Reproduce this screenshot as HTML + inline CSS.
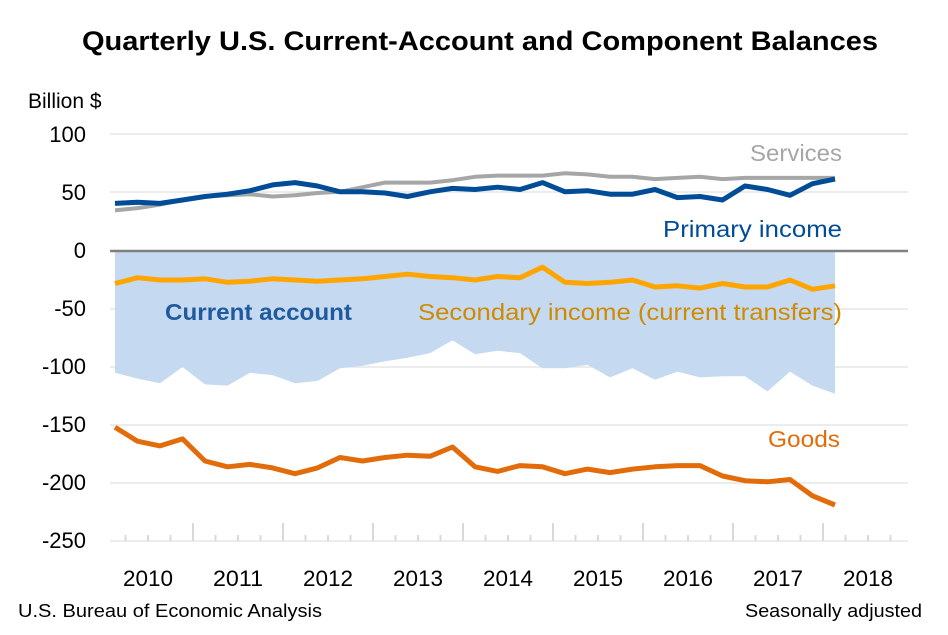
<!DOCTYPE html><html><head><style>body{margin:0;background:#fff}svg{display:block;font-family:"Liberation Sans",sans-serif}</style></head><body>
<svg width="948" height="635" viewBox="0 0 948 635" xmlns="http://www.w3.org/2000/svg" id="s">
<rect width="948" height="635" fill="#fff"/>
<text x="480" y="50" text-anchor="middle" font-size="27" font-weight="bold" fill="#000" textLength="796" lengthAdjust="spacingAndGlyphs">Quarterly U.S. Current-Account and Component Balances</text>
<text x="28" y="108" font-size="21" fill="#000">Billion $</text>
<g stroke="#e6e6e6" stroke-width="1.5">
<line x1="110" x2="908" y1="134" y2="134"/><line x1="110" x2="908" y1="192" y2="192"/>
<line x1="110" x2="908" y1="309" y2="309"/><line x1="110" x2="908" y1="367" y2="367"/>
<line x1="110" x2="908" y1="425" y2="425"/><line x1="110" x2="908" y1="483" y2="483"/>
<line x1="110" x2="908" y1="541" y2="541"/>
</g>
<g font-size="22" text-anchor="end" fill="#000">
<text x="86" y="142">100</text><text x="86" y="200">50</text><text x="86" y="258">0</text>
<text x="86" y="316">-50</text><text x="86" y="374">-100</text><text x="86" y="432">-150</text>
<text x="86" y="490">-200</text><text x="86" y="548">-250</text>
</g>
<g stroke="#d9d9d9" stroke-width="2">
<line x1="125.5" x2="125.5" y1="535" y2="541"/><line x1="148" x2="148" y1="535" y2="541"/><line x1="170.5" x2="170.5" y1="535" y2="541"/><line x1="193" x2="193" y1="523" y2="541"/>
<line x1="215.5" x2="215.5" y1="535" y2="541"/><line x1="238" x2="238" y1="535" y2="541"/><line x1="260.5" x2="260.5" y1="535" y2="541"/><line x1="283" x2="283" y1="523" y2="541"/>
<line x1="305.5" x2="305.5" y1="535" y2="541"/><line x1="328" x2="328" y1="535" y2="541"/><line x1="350.5" x2="350.5" y1="535" y2="541"/><line x1="373" x2="373" y1="523" y2="541"/>
<line x1="395.5" x2="395.5" y1="535" y2="541"/><line x1="418" x2="418" y1="535" y2="541"/><line x1="440.5" x2="440.5" y1="535" y2="541"/><line x1="463" x2="463" y1="523" y2="541"/>
<line x1="485.5" x2="485.5" y1="535" y2="541"/><line x1="508" x2="508" y1="535" y2="541"/><line x1="530.5" x2="530.5" y1="535" y2="541"/><line x1="553" x2="553" y1="523" y2="541"/>
<line x1="575.5" x2="575.5" y1="535" y2="541"/><line x1="598" x2="598" y1="535" y2="541"/><line x1="620.5" x2="620.5" y1="535" y2="541"/><line x1="643" x2="643" y1="523" y2="541"/>
<line x1="665.5" x2="665.5" y1="535" y2="541"/><line x1="688" x2="688" y1="535" y2="541"/><line x1="710.5" x2="710.5" y1="535" y2="541"/><line x1="733" x2="733" y1="523" y2="541"/>
<line x1="755.5" x2="755.5" y1="535" y2="541"/><line x1="778" x2="778" y1="535" y2="541"/><line x1="800.5" x2="800.5" y1="535" y2="541"/><line x1="823" x2="823" y1="523" y2="541"/>
<line x1="845.5" x2="845.5" y1="535" y2="541"/><line x1="868" x2="868" y1="535" y2="541"/><line x1="890.5" x2="890.5" y1="535" y2="541"/>
</g>
<g font-size="22" text-anchor="middle" fill="#000">
<text x="148" y="586" textLength="50" lengthAdjust="spacingAndGlyphs">2010</text><text x="238" y="586" textLength="50" lengthAdjust="spacingAndGlyphs">2011</text><text x="328" y="586" textLength="50" lengthAdjust="spacingAndGlyphs">2012</text><text x="418" y="586" textLength="50" lengthAdjust="spacingAndGlyphs">2013</text><text x="508" y="586" textLength="50" lengthAdjust="spacingAndGlyphs">2014</text><text x="598" y="586" textLength="50" lengthAdjust="spacingAndGlyphs">2015</text><text x="688" y="586" textLength="50" lengthAdjust="spacingAndGlyphs">2016</text><text x="778" y="586" textLength="50" lengthAdjust="spacingAndGlyphs">2017</text><text x="868" y="586" textLength="50" lengthAdjust="spacingAndGlyphs">2018</text>
</g>
<path id="ca" fill="#c5d9f1"/>
<line x1="110" x2="908" y1="251" y2="251" stroke="#808080" stroke-width="2.5"/>
<polyline id="sv" fill="none" stroke="#a6a6a6" stroke-width="4" stroke-linejoin="round"/>
<polyline id="pi" fill="none" stroke="#004c97" stroke-width="5" stroke-linejoin="round"/>
<polyline id="si" fill="none" stroke="#ffa500" stroke-width="5" stroke-linejoin="round"/>
<polyline id="gd" fill="none" stroke="#e36c0a" stroke-width="5" stroke-linejoin="round"/>
<text x="750" y="161" font-size="23" fill="#a6a6a6" textLength="92" lengthAdjust="spacingAndGlyphs">Services</text>
<text x="663" y="237" font-size="23" fill="#004c97" textLength="179" lengthAdjust="spacingAndGlyphs">Primary income</text>
<text x="165" y="320" font-size="23" font-weight="bold" fill="#1f5a9e" textLength="187" lengthAdjust="spacingAndGlyphs">Current account</text>
<text x="418" y="320" font-size="23" fill="#d08a00" textLength="424" lengthAdjust="spacingAndGlyphs">Secondary income (current transfers)</text>
<text x="768" y="447" font-size="23" fill="#e36c0a" textLength="72" lengthAdjust="spacingAndGlyphs">Goods</text>
<text x="18" y="617" font-size="18" fill="#000" textLength="304" lengthAdjust="spacingAndGlyphs">U.S. Bureau of Economic Analysis</text>
<text x="922" y="617" font-size="18" text-anchor="end" fill="#000" textLength="177" lengthAdjust="spacingAndGlyphs">Seasonally adjusted</text>
<script>
var X=i=>115+22.5*i,Y=v=>251-v*1.16;
function pts(a){return a.map((v,i)=>X(i).toFixed(1)+','+Y(v).toFixed(1)).join(' ')}
var sv=[35,37,40,44,47,48,49,47,48,50,51,55,59,59,59,61,64,65,65,65,67,66,64,64,62,63,64,62,63,63,63,63,63];
var pi=[41,42,41,44,47,49,52,57,59,56,51,51,50,47,51,54,53,55,53,59,51,52,49,49,53,46,47,44,56,53,48,58,62];
var si=[-28,-23,-25,-25,-24,-27,-26,-24,-25,-26,-25,-24,-22,-20,-22,-23,-25,-22,-23,-14,-27,-28,-27,-25,-31,-30,-32,-28,-31,-31,-25,-33,-30];
var ca=[-105,-110,-114,-100,-115,-116,-105,-107,-114,-112,-101,-99,-95,-92,-88,-77,-89,-86,-88,-101,-101,-98,-109,-101,-111,-104,-109,-108,-108,-121,-104,-116,-123];
var gd=[-152,-164,-168,-162,-181,-186,-184,-187,-192,-187,-178,-181,-178,-176,-177,-169,-186,-190,-185,-186,-192,-188,-191,-188,-186,-185,-185,-194,-198,-199,-197,-211,-219];
document.getElementById('sv').setAttribute('points',pts(sv));
document.getElementById('pi').setAttribute('points',pts(pi));
document.getElementById('si').setAttribute('points',pts(si));
document.getElementById('gd').setAttribute('points',pts(gd));
document.getElementById('ca').setAttribute('d','M'+X(0)+',251 L'+pts(ca).replace(/ /g,' L')+' L'+X(32)+',251 Z');
</script>
</svg></body></html>
